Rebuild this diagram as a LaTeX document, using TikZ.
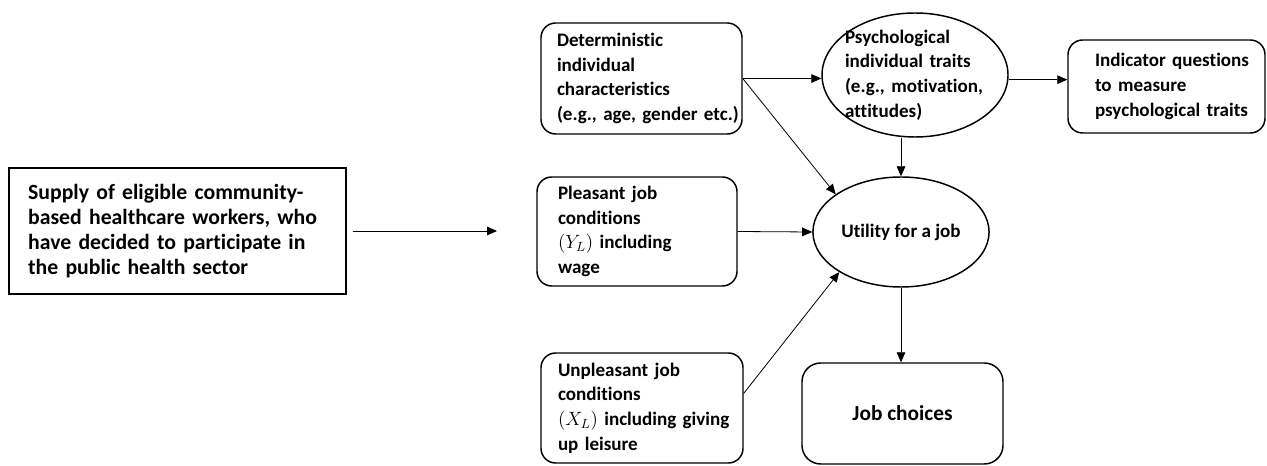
\documentclass[tikz,border=0pt]{standalone}
\usepackage{fontspec}
\setmainfont{Carlito}[Ligatures=NoCommon]
\usetikzlibrary{arrows.meta,shapes.geometric}

\tikzset{
  txt/.style={font=\bfseries\fontsize{14.3}{18.5}\selectfont},
  sqbox/.style={txt, draw, line width=1.1pt, inner sep=0pt, align=left},
  rbox/.style={sqbox, rounded corners=11pt},
  oval/.style={txt, draw, ellipse, line width=1.1pt, inner sep=-3.2pt, align=left},
  arr/.style={-{Triangle[length=7.5pt,width=6.5pt]}, line width=0.6pt},
}

\begin{document}
\begin{tikzpicture}[x=0.75pt,y=-0.75pt]
\useasboundingbox (0,0) rectangle (1267,466);
\node [sqbox, font=\bfseries\fontsize{16.3}{18.7}\selectfont, minimum width=252.75pt, minimum height=94.5pt, text width=224pt] (supply) at (177.5,231)
  {Supply of eligible community-\\based healthcare workers, who\\have decided to participate in\\the public\ health sector};
\coordinate (supplyend) at (497,231);
\node [rbox, minimum width=150.75pt, minimum height=83.25pt, text width=126.75pt] (determ) at (641.5,78.5)
  {Deterministic\\individual\\characteristics\\\mbox{(e.g., age, gender etc.)}};
\node [oval, minimum width=139.5pt, minimum height=93pt, text width=105pt] (psych) at (915,75)
  {Psychological\\individual traits\\(e.g., motivation,\\attitudes)};
\node [rbox, minimum width=147.75pt, minimum height=69.75pt, text width=107.25pt] (indic) at (1166.5,86.5)
  {\mbox{Indicator questions}\\to measure\\\mbox{psychological traits}};
\node [rbox, minimum width=150pt, minimum height=81.75pt, text width=118.5pt] (pleas) at (637,231.5)
  {Pleasant job\\conditions\\$(Y_L)$ including\\wage};
\node [oval, minimum width=126.75pt, minimum height=82.5pt, inner sep=2pt] (util) at (901,232) {Utility for a job};
\node [rbox, minimum width=151.5pt, minimum height=82.5pt, text width=126pt] (unpleas) at (642,408)
  {Unpleasant job\\conditions\\\mbox{$(X_L)$ including giving}\\up leisure};
\node [rbox, rounded corners=14pt, minimum width=150.75pt, minimum height=75.75pt, align=center, font=\bfseries\fontsize{16}{19}\selectfont] (jobs) at (902.5,413.5)
  {Job choices};
\draw [arr] ([xshift=4.5pt]supply.east) -- (supplyend);
\draw [arr] (determ.east) -- (determ.east -| psych.west);
\draw [arr] ([yshift=-3.5pt]psych.east) -- ([yshift=-3.5pt]psych.east -| indic.west);
\draw [arr] (determ.east) -- (util.150);
\draw [arr] (psych.south -| util.north) -- (util.north);
\draw [arr] (pleas.east) -- (util.west);
\draw [arr] ([yshift=11pt]unpleas.east) -- (util.213);
\draw [arr] (util.south) -- (util.south |- jobs.north);
\end{tikzpicture}
\end{document}
